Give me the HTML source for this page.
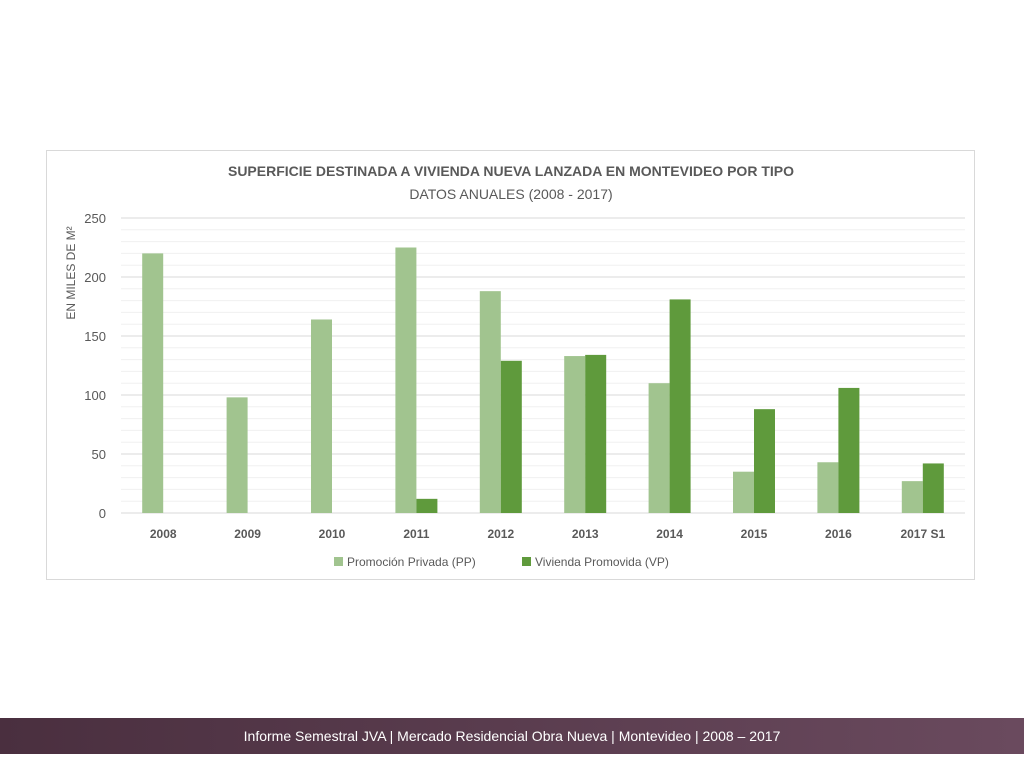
<!DOCTYPE html>
<html><head><meta charset="utf-8"><style>
body{margin:0;width:1024px;height:768px;background:#fff;font-family:"Liberation Sans",sans-serif;position:relative;overflow:hidden}
#card{position:absolute;left:46px;top:150px;width:929px;height:430px;border:1px solid #d9d9d9;box-sizing:border-box}
#footer{position:absolute;left:0;top:718px;width:1024px;height:36px;background:linear-gradient(90deg,#4a2f3f,#6a4a5e);color:#fff;text-align:center;line-height:36px;font-size:14px;font-family:"Liberation Sans Narrow","Liberation Sans",sans-serif}
</style></head><body>
<div id="card"></div>
<svg id="chart" width="1024" height="768" style="position:absolute;left:0;top:0">
<text x="511" y="176" text-anchor="middle" font-size="14" font-weight="bold" fill="#595959">SUPERFICIE DESTINADA A VIVIENDA NUEVA LANZADA EN MONTEVIDEO POR TIPO</text>
<text x="511" y="199" text-anchor="middle" font-size="14" fill="#595959">DATOS ANUALES (2008 - 2017)</text>
<text transform="translate(75,273) rotate(-90)" text-anchor="middle" font-size="12" fill="#595959">EN MILES DE M²</text>
<g id="grid"></g><g id="bars"></g><g id="labels"></g>
<g>
<rect x="334" y="557" width="9" height="9" fill="#a1c48f"/>
<text x="347" y="566" font-size="12" fill="#595959">Promoción Privada (PP)</text>
<rect x="522" y="557" width="9" height="9" fill="#5f9a3c"/>
<text x="535" y="566" font-size="12" fill="#595959">Vivienda Promovida (VP)</text>
</g>
</svg>
<div id="footer">Informe Semestral JVA | Mercado Residencial Obra Nueva | Montevideo | 2008 – 2017</div>
<script>
const categories=["2008","2009","2010","2011","2012","2013","2014","2015","2016","2017 S1"];
const ppValues=[220,98,164,225,188,133,110,35,43,27];
const vpValues=[0,0,0,12,129,134,181,88,106,42];
const yTicks=[0,50,100,150,200,250];
const NS="http://www.w3.org/2000/svg";
const x0=121,x1=965,y0=513,yTop=218,yMax=250;
const bw=(x1-x0)/categories.length;
const y=v=>y0-(v/yMax)*(y0-yTop);
const xc=i=>x0+bw*(i+0.5);
function mk(t,a,p){const e=document.createElementNS(NS,t);for(const k in a)e.setAttribute(k,a[k]);p.appendChild(e);return e;}
const grid=document.getElementById('grid'),bars=document.getElementById('bars'),labels=document.getElementById('labels');
for(let v=0;v<=yMax;v+=10){
  const major=v%50===0;
  const l=mk('line',{x1:x0,x2:x1,y1:y(v),y2:y(v),stroke:major?'#d9d9d9':'#f0f0f0','stroke-width':1},grid);
  
  
}
yTicks.forEach(v=>{
  const t=mk('text',{x:106,y:y(v)+5,'text-anchor':'end','font-size':13,fill:'#595959'},labels);
  t.textContent=v;
  
  
});
categories.forEach((c,i)=>{
  const bwid=21;
  const a=mk('rect',{x:xc(i)-bwid,y:y(ppValues[i]),width:bwid,height:y0-y(ppValues[i]),fill:'#a1c48f'},bars);
  
  
  if(vpValues[i]>0){
    const b=mk('rect',{x:xc(i),y:y(vpValues[i]),width:bwid,height:y0-y(vpValues[i]),fill:'#5f9a3c'},bars);
    
    
  }
  const t=mk('text',{x:xc(i),y:538,'text-anchor':'middle','font-size':12,'font-weight':'bold',fill:'#595959'},labels);
  t.textContent=c;
  
  
});
</script>
</body></html>
